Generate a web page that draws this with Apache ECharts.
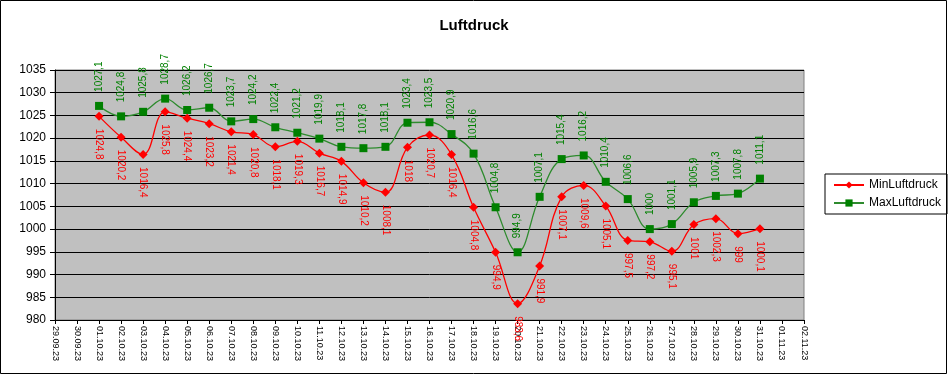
<!DOCTYPE html>
<html>
<head>
<meta charset="utf-8">
<script src="https://cdn.jsdelivr.net/npm/echarts@6/dist/echarts.min.js"></script>
<style>
html,body{margin:0;padding:0;background:#fff;}
#c{width:948px;height:375px;}
</style>
</head>
<body>
<div id="c"></div>
<script>
var categories = ['29.09.23','30.09.23','01.10.23','02.10.23','03.10.23','04.10.23','05.10.23','06.10.23','07.10.23','08.10.23','09.10.23','10.10.23','11.10.23','12.10.23','13.10.23','14.10.23','15.10.23','16.10.23','17.10.23','18.10.23','19.10.23','20.10.23','21.10.23','22.10.23','23.10.23','24.10.23','25.10.23','26.10.23','27.10.23','28.10.23','29.10.23','30.10.23','31.10.23','01.11.23','02.11.23'];
var minLuftdruck = [null,null,1024.8,1020.2,1016.4,1025.8,1024.4,1023.2,1021.4,1020.8,1018.1,1019.3,1016.7,1014.9,1010.2,1008.1,1018,1020.7,1016.4,1004.8,994.9,983.6,991.9,1007.1,1009.6,1005.1,997.5,997.2,995.1,1001,1002.3,999,1000.1,null,null];
var maxLuftdruck = [null,null,1027.1,1024.8,1025.8,1028.7,1026.2,1026.7,1023.7,1024.2,1022.4,1021.2,1019.9,1018.1,1017.8,1018.1,1023.4,1023.5,1020.9,1016.6,1004.8,994.9,1007.1,1015.4,1016.2,1010.4,1006.6,1000,1001.1,1005.9,1007.3,1007.8,1011.1,null,null];
var yMin = 980, yMax = 1035, yStep = 5;

function fmt(p){ return String(p.value).replace('.', ','); }

var chart = echarts.init(document.getElementById('c'), null, {renderer:'canvas'});
chart.setOption({
  animation:false,
  backgroundColor:'#ffffff',
  textStyle:{fontFamily:'Liberation Sans, Arial, sans-serif'},
  title:{
    text:'Luftdruck', left:'center', top:13,
    textStyle:{fontSize:15, fontWeight:'bold', color:'#000', fontFamily:'Liberation Sans, Arial, sans-serif'}
  },
  legend:{
    orient:'vertical', left:825, top:174,
    padding:[5,6,5,8], itemGap:6,
    borderColor:'#000', borderWidth:1,
    itemWidth:30, itemHeight:9,
    textStyle:{fontSize:12, color:'#000'},
    data:['MinLuftdruck','MaxLuftdruck']
  },
  grid:{left:55, right:144, top:70, bottom:55, show:true, backgroundColor:'#c0c0c0', borderColor:'#808080', borderWidth:1},
  xAxis:{
    type:'category', data:categories, boundaryGap:false,
    axisLine:{show:true, lineStyle:{color:'#000', width:1}},
    axisTick:{show:true, length:4, lineStyle:{color:'#000'}},
    axisLabel:{rotate:-90, fontSize:9, color:'#000', margin:6, interval:0},
    splitLine:{show:false}
  },
  yAxis:{
    type:'value', min:yMin, max:yMax, interval:yStep,
    axisLine:{show:true, lineStyle:{color:'#000', width:1}},
    axisTick:{show:true, length:5, lineStyle:{color:'#000'}},
    axisLabel:{fontSize:12, color:'#000', margin:9, formatter:function(v){return String(v);}},
    splitLine:{show:true, lineStyle:{color:'#000', width:1}}
  },
  series:[
    {
      name:'MinLuftdruck', type:'line', data:minLuftdruck, smooth:0.4,
      symbol:'diamond', symbolSize:9, showAllSymbol:true,
      itemStyle:{color:'#ff0000'},
      lineStyle:{color:'#ff0000', width:1.3},
      label:{show:true, position:'bottom', rotate:-90, align:'left', verticalAlign:'middle', distance:8, fontSize:10, overflow:'none', color:'#ff0000', formatter:fmt},
      labelLayout:{hideOverlap:false},
      z:3
    },
    {
      name:'MaxLuftdruck', type:'line', data:maxLuftdruck, smooth:0.4,
      symbol:'rect', symbolSize:8, showAllSymbol:true,
      itemStyle:{color:'#008000'},
      lineStyle:{color:'#2e8b2e', width:1.3},
      label:{show:true, position:'top', rotate:90, align:'left', verticalAlign:'middle', distance:10, fontSize:10, overflow:'none', color:'#008000', formatter:fmt},
      labelLayout:{hideOverlap:false},
      z:2
    }
  ],
  graphic:[
    {type:'rect', shape:{x:0.5, y:0.5, width:946, height:373}, style:{fill:null, stroke:'#000', lineWidth:1}, silent:true}
  ]
});
</script>
</body>
</html>
